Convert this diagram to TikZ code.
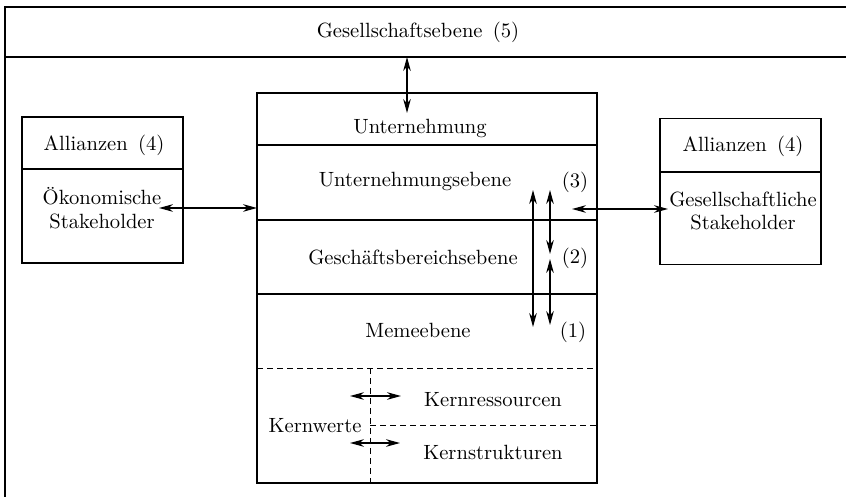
\documentclass[tikz,border=0pt]{standalone}
\usepackage{tikz}
\usetikzlibrary{arrows.meta,positioning,calc}

\begin{document}
\begin{tikzpicture}[
    x=0.5pt, y=-0.5pt,
    frame/.style={draw, line width=0.6pt},
    stakebox/.style={draw, line width=0.6pt, rectangle, minimum width=80.5pt, minimum height=73pt},
    label/.style={font=\fontsize{10.3pt}{12.4pt}\selectfont, inner sep=1pt},
    stack/.style={font=\fontsize{10.3pt}{11.6pt}\selectfont, align=center, inner sep=1pt, text depth=0pt},
    cut/.style={line width=0.5pt, dash pattern=on 3pt off 2pt},
    edge/.style={{Stealth[length=7pt,width=3.8pt]}-{Stealth[length=7pt,width=3.8pt]}, line width=0.6pt},
]
\useasboundingbox (0,0) rectangle (846,497);

% Society level (open to the right and bottom)
\draw[frame] (846,7) -- (5,7) -- (5,497);
\draw[frame] (5,57) -- (846,57);
\node[label] (soc) at (418,32) {Gesellschaftsebene\enspace(5)};

% Enterprise
\node[frame, rectangle, minimum width=170pt, minimum height=195pt] (firm) at (427,288) {};
\draw[frame] (257,145) -- (597,145);
\draw[frame] (257,220) -- (597,220);
\draw[frame] (257,294) -- (597,294);
\draw[cut] (257,368) -- (597,368);

\node[label] (untn) at (420,128) {Unternehmung};
\node[label] (uebene) at (415,181) {Unternehmungsebene};
\node[label] (gebene) at (413,257) {Geschäftsbereichsebene};
\node[label] (mebene) at (418,330) {Memeebene};
\node[label] (n3) at (575,182) {(3)};
\node[label] (n2) at (575,258) {(2)};
\node[label] (n1) at (573,332) {(1)};

% Core
\draw[cut] (370,368) -- (370,483);
\draw[cut] (370,425) -- (597,425);
\node[label] (kwerte) at (315,426) {Kernwerte};
\node[label] (kres) at (493,400) {Kernressourcen};
\node[label] (kstr) at (493,452) {Kernstrukturen};

% Alliances
\node[stakebox] (lbox) at (102.5,190) {};
\draw[frame] (22,169) -- (183,169);
\node[label] (lall) at (104,145) {Allianzen\enspace(4)};
\node[stack] (oeko) at (102,208) {Ökonomische\\Stakeholder};

\node[stakebox] (rbox) at (740.5,191.5) {};
\node[label] (rall) at (743,146) {Allianzen\enspace(4)};
\draw[frame] (659,172) -- (822,172);
\node[stack] (gesell) at (743,211) {Gesellschaftliche\\Stakeholder};

% Arrow ends
\coordinate (socfoot) at (407,57);
\coordinate (firmtop) at (407,113);
\coordinate (oekoend) at (159,208);
\coordinate (firmwest) at (257,208);
\coordinate (ueeast) at (572,209);
\coordinate (gesellwest) at (668,209);
\coordinate (a3) at (533,190);
\coordinate (a1) at (533,327);
\coordinate (b3) at (550,190);
\coordinate (b2u) at (550,254);
\coordinate (b2l) at (550,259);
\coordinate (b1) at (550,325);
\coordinate (kw1) at (350,396);
\coordinate (kr) at (401,396);
\coordinate (kw2) at (350,443);
\coordinate (ks) at (400,443);

\draw[edge] (socfoot) -- (firmtop);
\draw[edge] (oekoend) -- (firmwest);
\draw[edge] (ueeast) -- (gesellwest);
\draw[edge] (a3) -- (a1);
\draw[edge] (b3) -- (b2u);
\draw[edge] (b2l) -- (b1);
\draw[edge] (kw1) -- (kr);
\draw[edge] (kw2) -- (ks);

\end{tikzpicture}
\end{document}
